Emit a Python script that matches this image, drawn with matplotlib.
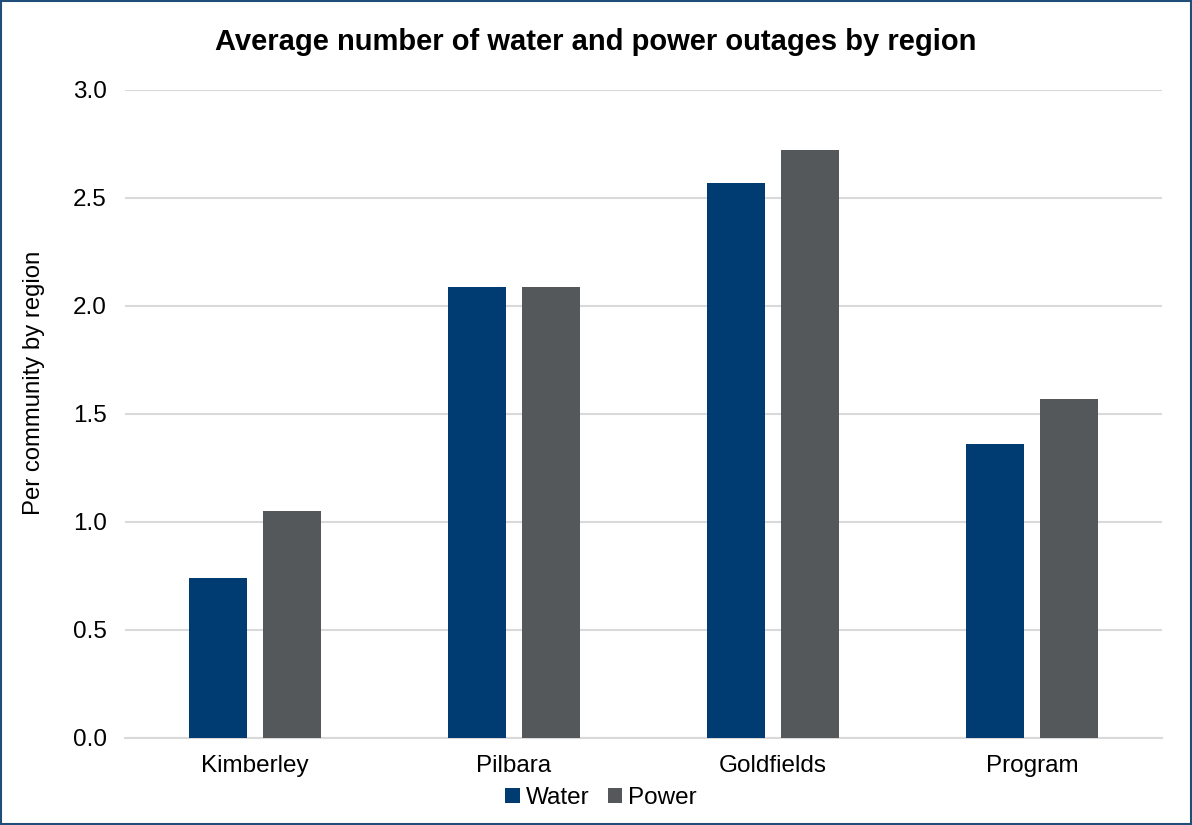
import matplotlib.pyplot as plt
import numpy as np

regions = ['Kimberley', 'Pilbara', 'Goldfields', 'Program']
water = [0.74, 2.09, 2.57, 1.36]
power = [1.05, 2.09, 2.72, 1.57]

plt.rcParams['font.family'] = ['Liberation Sans', 'DejaVu Sans']

fig = plt.figure(figsize=(11.92, 8.25), dpi=100)
ax = fig.add_axes([125/1192, 87/825, 1037/1192, 648/825])

x = np.arange(len(regions))
w = 0.224
ax.bar(x - 0.143, water, w, color='#003B71', label='Water', zorder=3)
ax.bar(x + 0.143, power, w, color='#54585A', label='Power', zorder=3)

ax.set_xlim(-0.5, 3.5)
ax.set_ylim(0, 3.0)
ax.set_yticks(np.arange(0, 3.01, 0.5))
ax.set_yticklabels([f'{v:.1f}' for v in np.arange(0, 3.01, 0.5)])
ax.set_xticks(x)
ax.set_xticklabels(regions)
ax.tick_params(axis='both', length=0, labelsize=17.5, colors='black')
ax.tick_params(axis='x', pad=12)
ax.tick_params(axis='y', pad=13)
ax.grid(axis='y', color='#D9D9D9', linewidth=1.5, zorder=0)
for s in ['top', 'right', 'left']:
    ax.spines[s].set_visible(False)
ax.spines['bottom'].set_color('#D9D9D9')
ax.spines['bottom'].set_linewidth(1.5)

ax.set_ylabel('Per community by region', fontsize=17.2)
ax.yaxis.set_label_coords(-0.077, 0.548)
fig.suptitle('Average number of water and power outages by region',
             fontsize=21, fontweight='bold', x=0.5, y=1 - 42/825, va='center')

ax.legend(loc='upper center', bbox_to_anchor=(0.459, -0.042), ncol=2, frameon=False,
          fontsize=17.5, handlelength=0.6, handleheight=0.6, handletextpad=0.25,
          columnspacing=0.75)

# outer frame around the whole figure
fig.patches.append(plt.Rectangle((0.001, 0.001), 0.998, 0.998, transform=fig.transFigure,
                                 fill=False, edgecolor='#1F4E79', linewidth=1.5))

fig.savefig('out.png', dpi=100)
